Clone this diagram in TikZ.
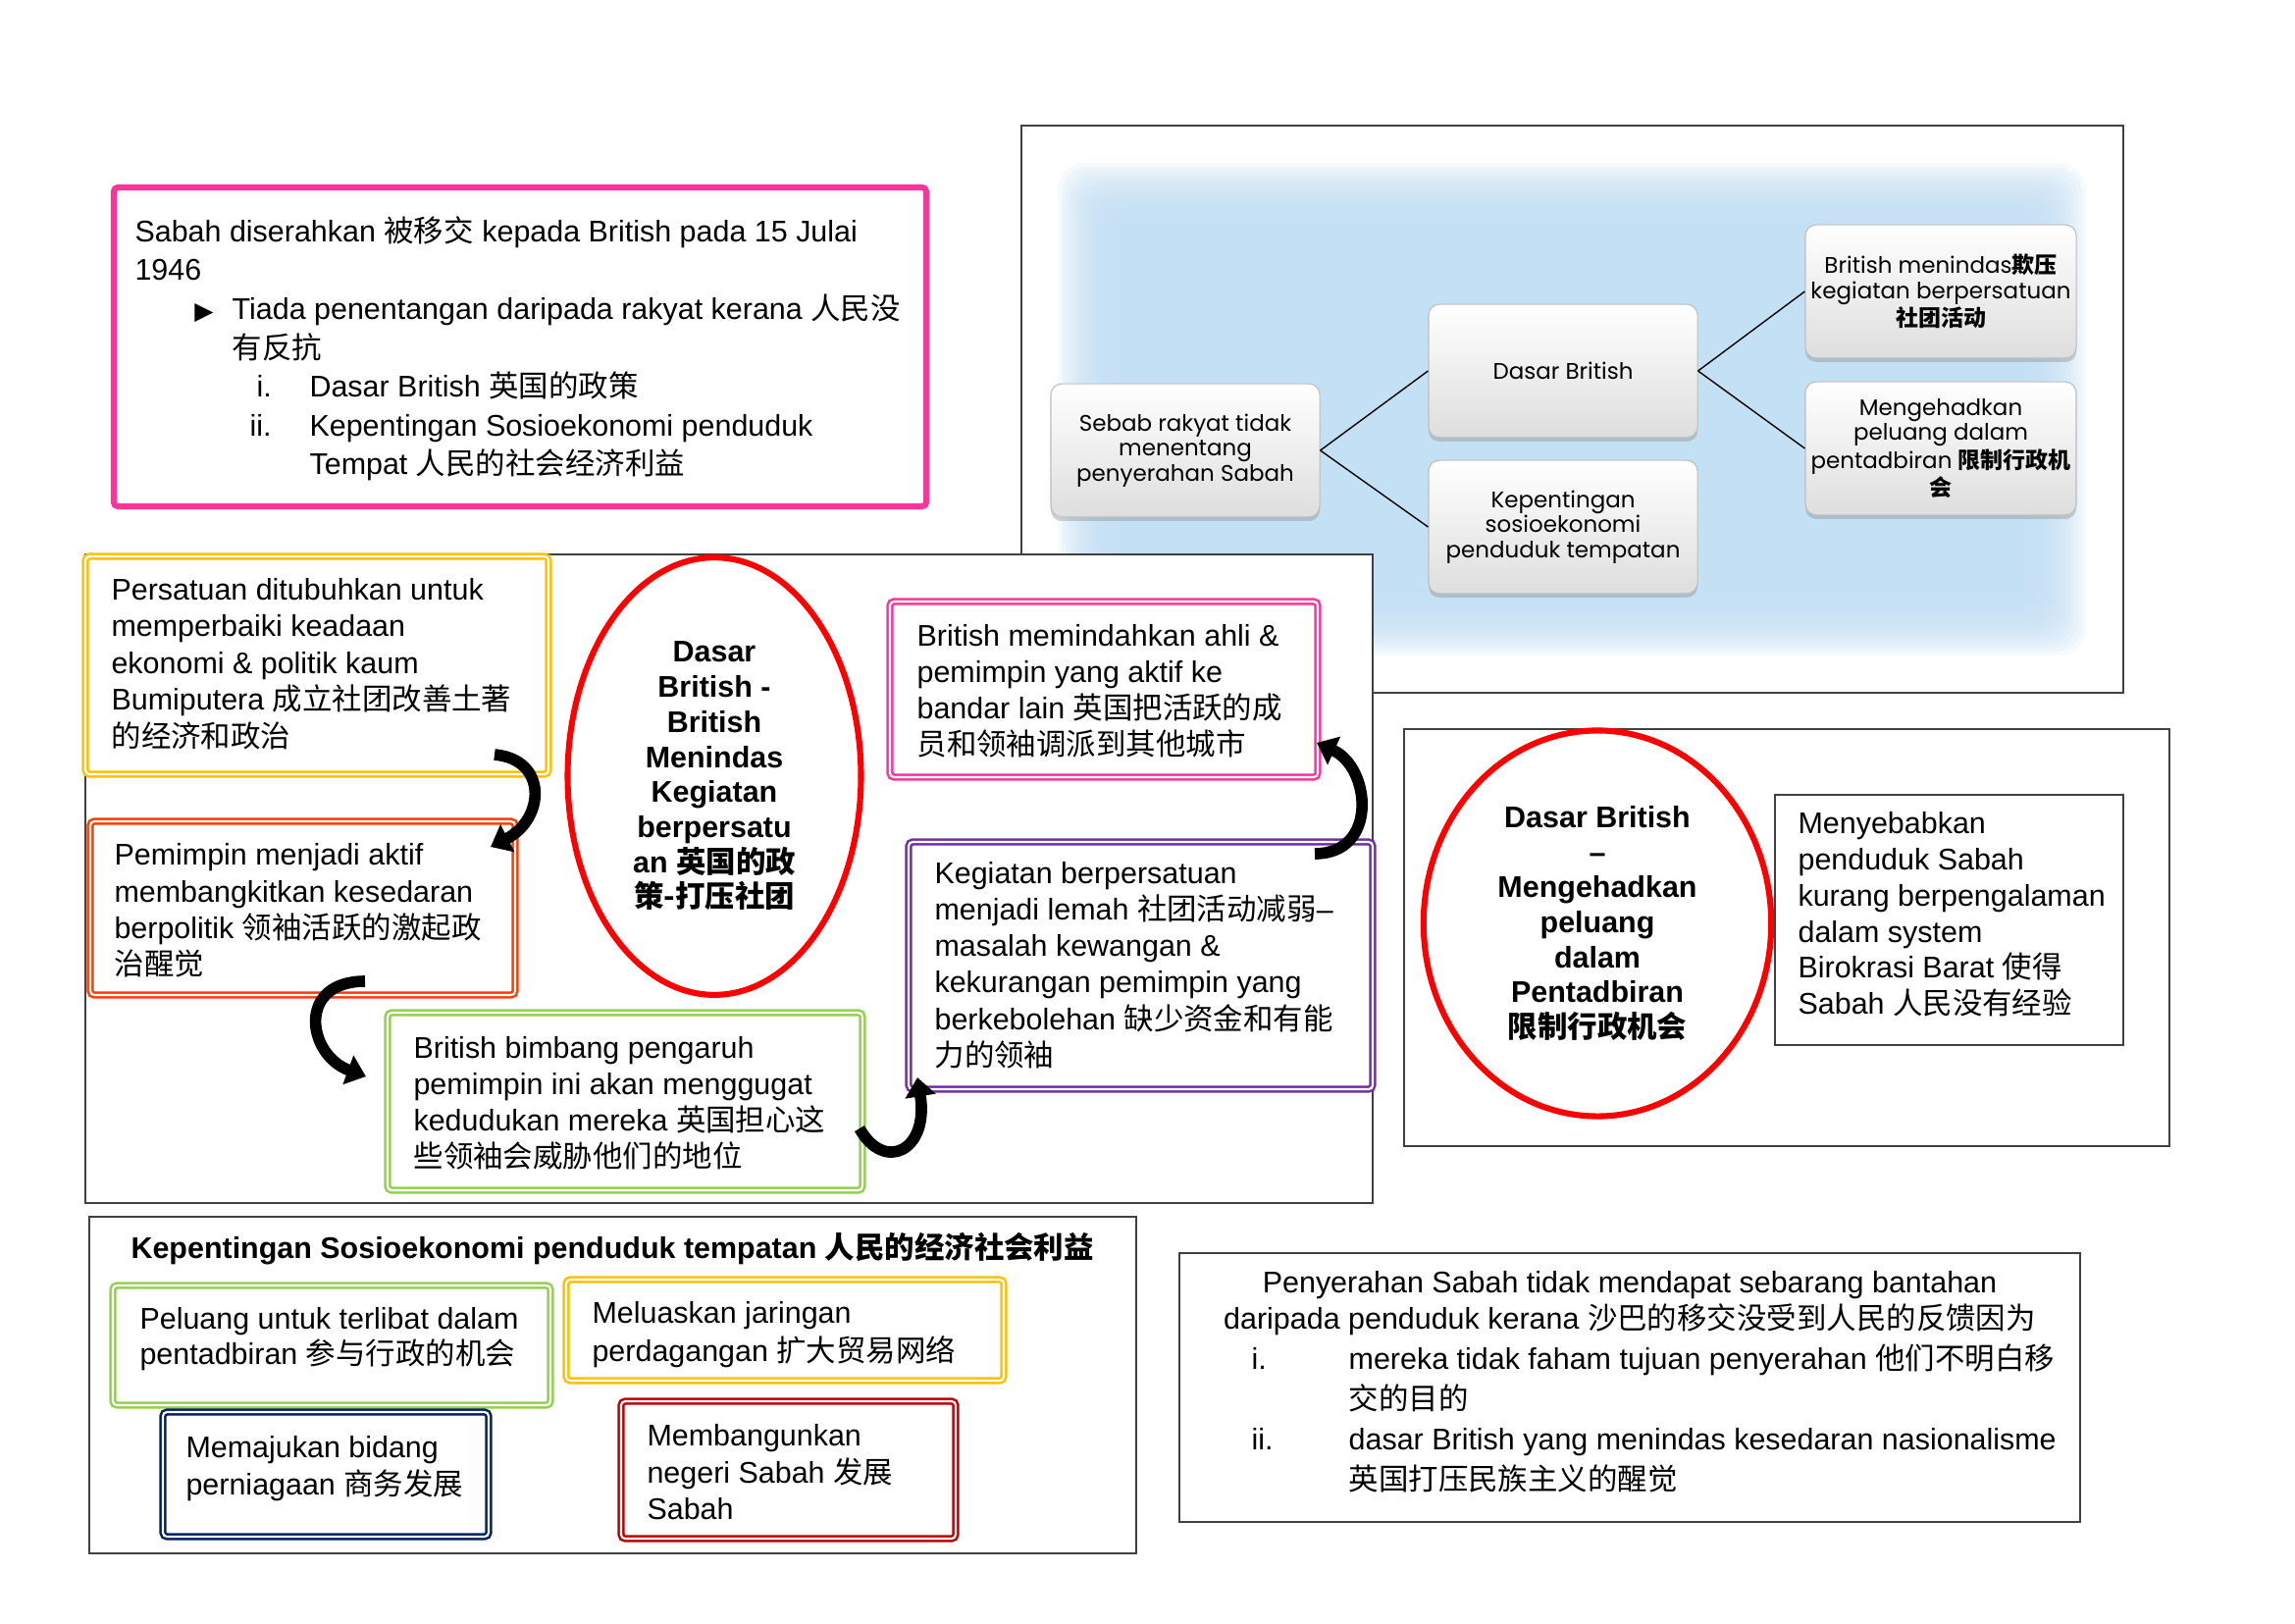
\documentclass[tikz,border=0pt]{standalone}
\usepackage{fontspec}
\setmainfont{Liberation Sans}
\newfontfamily\zhfont{Noto Sans CJK SC}
\newfontfamily\gothfont{Poppins}
\newfontfamily\symbfont{DejaVu Sans}
\usetikzlibrary{arrows.meta,positioning,fit,shapes.geometric,shadows}
\definecolor{hotpink}{RGB}{255,51,153}
\definecolor{boxyellow}{RGB}{255,192,0}
\definecolor{boxorange}{RGB}{255,60,0}
\definecolor{boxgreen}{RGB}{146,208,80}
\definecolor{boxpurple}{RGB}{112,48,160}
\definecolor{boxnavy}{RGB}{0,32,96}
\definecolor{boxred}{RGB}{192,0,0}
\definecolor{skyfill}{RGB}{196,224,245}
\newcommand{\zh}[1]{{\zhfont #1}}
\tikzset{
  frameln/.style={draw=black!75, line width=0.6pt, fill=white, inner sep=0pt},
  dblbox/.style={draw=#1, double=white, double distance=0.8pt, line width=0.9pt, rounded corners=1.5pt, inner sep=0pt},
  txt/.style={anchor=north west, inner sep=0pt, align=left, font=\fontsize{11}{13.3}\selectfont},
  ovalln/.style={ellipse, draw=red, line width=2.2pt, inner sep=0pt, align=center, font=\bfseries\fontsize{11}{12.9}\selectfont},
  smartbox/.style={rectangle, rounded corners=4pt, draw=black!25, line width=0.4pt,
    top color=white, bottom color=black!13,
    drop shadow={shadow xshift=0pt, shadow yshift=-1.5pt, opacity=0.35},
    minimum width=99pt, minimum height=49pt, inner sep=2pt, align=center,
    font=\gothfont\fontsize{8.3}{9.2}\selectfont},
  treeln/.style={line width=0.5pt, black},
  bendarrow/.style={-{Triangle[length=7pt,width=11pt]}, line width=4.2pt, black},
}

\begin{document}
\begin{tikzpicture}[x=0.012698cm, y=-0.012698cm]
  \useasboundingbox (0,0) rectangle (2339,1654);

  % top left: handover note
  \node[draw=hotpink, line width=2.2pt, rounded corners=1.5pt, inner sep=0pt, fit={(116,191) (944,516)}] (handover) {};
  \node[txt, font=\fontsize{11}{14.3}\selectfont] (handovertxt) at (137,220) {Sabah diserahkan \zh{被移交} kepada British pada 15 Julai\\
    1946\\
    \hspace*{22pt}\makebox[13.8pt][l]{\symbfont\small ▶}Tiada penentangan daripada rakyat kerana \zh{人民没}\\
    \hspace*{35.8pt}\zh{有反抗}\\
    \hspace*{44.8pt}\makebox[19.5pt][l]{i.}Dasar British \zh{英国的政策}\\
    \hspace*{42.3pt}\makebox[22pt][l]{ii.}Kepentingan Sosioekonomi penduduk\\
    \hspace*{64.3pt}Tempat \zh{人民的社会经济利益}};

  % top right: smartart tree
  \node[frameln, fit={(1041,128) (2164,706)}] (treeframe) {};
  \foreach \k in {0,...,14}
    \fill[skyfill, opacity=0.16, rounded corners=10pt] (1078+4*\k,166+4*\k) rectangle (2126-4*\k,668-4*\k);
  \fill[skyfill] (1140,228) rectangle (2064,606);
  \node[smartbox] (sebab) at (1208,459) {Sebab rakyat tidak\\menentang\\penyerahan Sabah};
  \node[smartbox] (dasar) at (1593,378) {Dasar British};
  \node[smartbox] (sosio) at (1593,537) {Kepentingan\\sosioekonomi\\penduduk tempatan};
  \node[smartbox] (menindas) at (1978,297) {British menindas{\zhfont\bfseries 欺压}\\kegiatan berpersatuan\\{\zhfont\bfseries 社团活动}};
  \node[smartbox] (hadkan) at (1978,457) {Mengehadkan\\peluang dalam\\pentadbiran {\zhfont\bfseries 限制行政机}\\{\zhfont\bfseries 会}};
  \draw[treeln] (sebab.east) -- (dasar.west);
  \draw[treeln] (sebab.east) -- (sosio.west);
  \draw[treeln] (dasar.east) -- (menindas.west);
  \draw[treeln] (dasar.east) -- (hadkan.west);

  % middle: chain of events
  \node[frameln, fit={(87,565) (1399,1226)}] (chainframe) {};
  \node[dblbox=boxyellow, fit={(87,567) (559,789)}] (persatuan) {};
  \node[txt, font=\fontsize{11}{13.5}\selectfont] (persatuantxt) at (113,589) {Persatuan ditubuhkan untuk\\memperbaiki keadaan\\ekonomi \& politik kaum\\Bumiputera \zh{成立社团改善土著}\\\zh{的经济和政治}};
  \node[dblbox=boxorange, fit={(92,837) (525,1014)}] (pemimpin) {};
  \node[txt, font=\fontsize{11}{13.5}\selectfont] (pemimpintxt) at (116,859) {Pemimpin menjadi aktif\\membangkitkan kesedaran\\berpolitik \zh{领袖活跃的激起政}\\\zh{治醒觉}};
  \node[dblbox=boxgreen, fit={(395,1032) (879,1213)}] (bimbang) {};
  \node[txt] (bimbangtxt) at (421,1056) {British bimbang pengaruh\\pemimpin ini akan menggugat\\kedudukan mereka \zh{英国担心这}\\\zh{些领袖会威胁他们的地位}};
  \node[ovalln, minimum width=108pt, minimum height=161pt] (tindasoval) at (728,791) {Dasar\\British -\\British\\Menindas\\Kegiatan\\berpersatu\\an \zh{英国的政}\\\zh{策-打压社团}};
  \node[dblbox=hotpink, fit={(907,613) (1343,792)}] (pindah) {};
  \node[txt] (pindahtxt) at (934,636) {British memindahkan ahli \&\\pemimpin yang aktif ke\\bandar lain \zh{英国把活跃的成}\\\zh{员和领袖调派到其他城市}};
  \node[dblbox=boxpurple, fit={(926,858) (1399,1110)}] (lemah) {};
  \node[txt, font=\fontsize{11}{13.4}\selectfont] (lemahtxt) at (952,878) {Kegiatan berpersatuan\\menjadi lemah \zh{社团活动减弱}--\\masalah kewangan \&\\kekurangan pemimpin yang\\berkebolehan \zh{缺少资金和有能}\\\zh{力的领袖}};
  \coordinate (a1s) at (504,769);
  \coordinate (a1e) at (500,863);
  \coordinate (a2s) at (372,1000);
  \coordinate (a2e) at (373,1097);
  \coordinate (a3s) at (876,1150);
  \coordinate (a3e) at (935,1098);
  \coordinate (a4s) at (1340,870);
  \coordinate (a4e) at (1342,757);
  \draw[bendarrow] (a1s) .. controls +(55,5) and +(55,-28) .. (a1e);
  \draw[bendarrow] (a2s) .. controls +(-70,0) and +(-60,-22) .. (a2e);
  \draw[bendarrow] (a3s) .. controls +(25,45) and +(12,75) .. (a3e);
  \draw[bendarrow] (a4s) .. controls +(65,0) and +(55,25) .. (a4e);

  % right: limited opportunity
  \node[frameln, fit={(1431,743) (2211,1168)}] (hadframe) {};
  \node[ovalln, minimum width=128pt, minimum height=142pt] (hadoval) at (1628,941) {Dasar British\\--\\Mengehadkan\\peluang\\dalam\\Pentadbiran\\\zh{限制行政机会}};
  \node[frameln, fit={(1809,810) (2164,1065)}] (birokrasi) {};
  \node[txt] (birokrasitxt) at (1832,827) {Menyebabkan\\penduduk Sabah\\kurang berpengalaman\\dalam system\\Birokrasi Barat \zh{使得}\\Sabah \zh{人民没有经验}};

  % bottom left: socio-economic interests
  \node[frameln, fit={(91,1240) (1158,1583)}] (sosioframe) {};
  \node[txt, font=\bfseries\fontsize{11}{13.3}\selectfont] (sosiotitle) at (133,1256) {Kepentingan Sosioekonomi penduduk tempatan \zh{人民的经济社会利益}};
  \node[dblbox=boxgreen, fit={(115,1310) (561,1432)}] (peluang) {};
  \node[txt, font=\fontsize{11}{12.9}\selectfont] (peluangtxt) at (142,1332) {Peluang untuk terlibat dalam\\pentadbiran \zh{参与行政的机会}};
  \node[dblbox=boxyellow, fit={(577,1304) (1023,1407)}] (jaringan) {};
  \node[txt, font=\fontsize{11}{14}\selectfont] (jaringantxt) at (603,1326) {Meluaskan jaringan\\perdagangan \zh{扩大贸易网络}};
  \node[dblbox=boxnavy, fit={(166,1439) (498,1566)}] (niaga) {};
  \node[txt, font=\fontsize{11}{13.5}\selectfont] (niagatxt) at (189,1463) {Memajukan bidang\\perniagaan \zh{商务发展}};
  \node[dblbox=boxred, fit={(633,1428) (974,1568)}] (bangun) {};
  \node[txt, font=\fontsize{11}{13.5}\selectfont] (banguntxt) at (659,1451) {Membangunkan\\negeri Sabah \zh{发展}\\Sabah};

  % bottom right: no objection
  \node[frameln, fit={(1202,1277) (2120,1551)}] (bantahframe) {};
  \node[txt, anchor=north, align=center, font=\fontsize{11}{13.4}\selectfont] (bantahtxt) at (1661,1295) {Penyerahan Sabah tidak mendapat sebarang bantahan\\daripada penduduk kerana \zh{沙巴的移交没受到人民的反馈因为}};
  \node[txt, font=\fontsize{11}{14.8}\selectfont] (bantahlist) at (1275,1369) {\makebox[35.8pt][l]{i.}mereka tidak faham tujuan penyerahan \zh{他们不明白移}\\
    \hspace*{35.8pt}\zh{交的目的}\\
    \makebox[35.8pt][l]{ii.}dasar British yang menindas kesedaran nasionalisme\\
    \hspace*{35.8pt}\zh{英国打压民族主义的醒觉}};
\end{tikzpicture}
\end{document}
